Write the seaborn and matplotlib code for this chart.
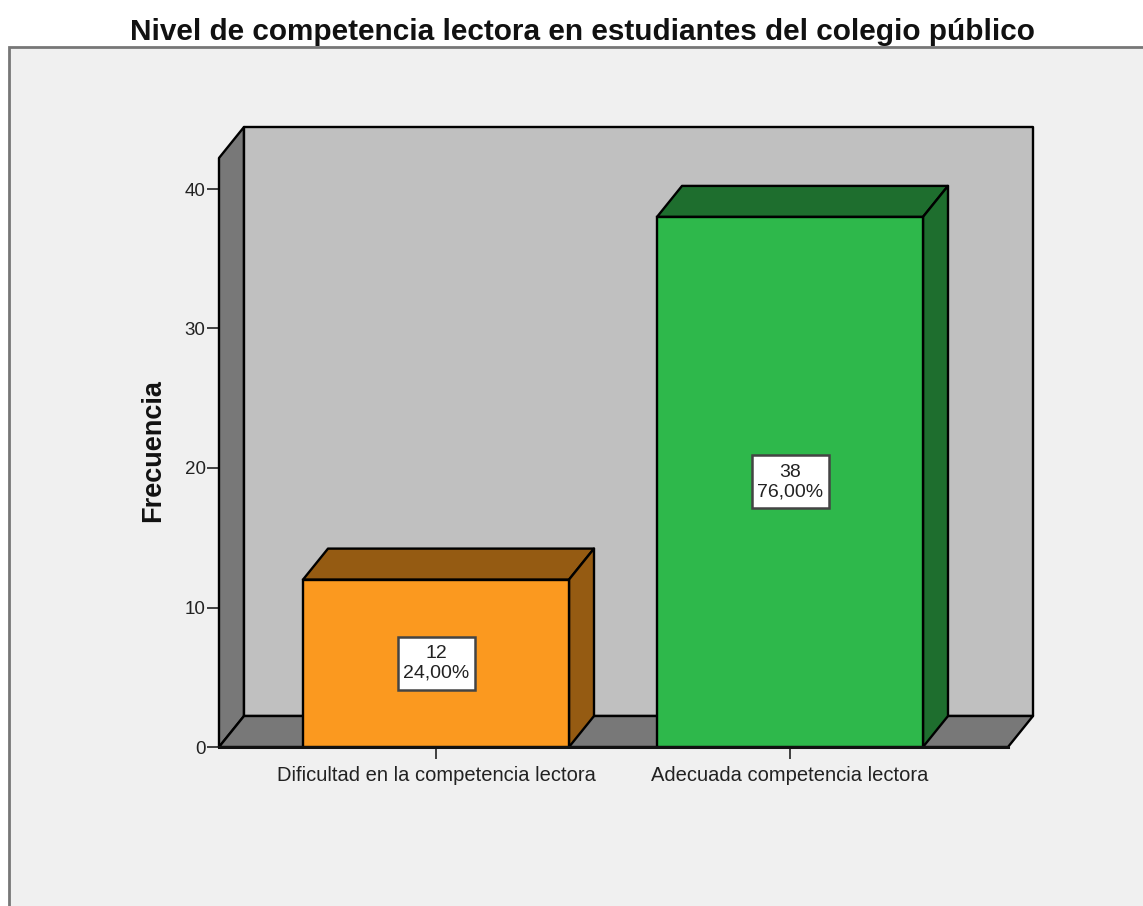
import matplotlib
matplotlib.use("Agg")
import matplotlib.pyplot as plt
import pandas as pd
import seaborn as sns
from matplotlib.patches import Rectangle

# Data
categorias = ["Dificultad en la competencia lectora", "Adecuada competencia lectora"]
frecuencias = [12, 38]
porcentajes = ["24,00%", "76,00%"]
colores = ["#FB991F", "#2EB84B"]
colores_lado = ["#955B12", "#1E6E2E"]
y_ticks = [0, 10, 20, 30, 40]

W, H = 1143, 906
PX_LEFT, PX_RIGHT, PX_TOP, PX_BOTTOM = 219, 1008, 158, 747
PX_PER_CAT = 354
PX_PER_UNIT = 13.95
DEPTH_X = 25 / PX_PER_CAT
DEPTH_Y = 31 / PX_PER_UNIT
BOX_W = 77 / PX_PER_CAT
BOX_H = 53 / PX_PER_UNIT
LINE = 1.7

sns.set_style("white")
plt.rcParams["font.family"] = ["Liberation Sans", "DejaVu Sans"]

df = pd.DataFrame({"nivel": categorias, "frecuencia": frecuencias})

fig = plt.figure(figsize=(W / 100, H / 100), dpi=100, facecolor="white")

# outer panel, runs off the right and bottom of the image
fig.add_artist(Rectangle((9 / W, -0.1), 1.1, 0.1 + (H - 47) / H, transform=fig.transFigure,
                         facecolor="#F0F0F0", edgecolor="#777777", linewidth=2, zorder=-1))

ax = fig.add_axes([PX_LEFT / W, 1 - PX_BOTTOM / H, (PX_RIGHT - PX_LEFT) / W, (PX_BOTTOM - PX_TOP) / H])
ax.patch.set_alpha(0)

sns.barplot(data=df, x="nivel", y="frecuencia", hue="nivel", hue_order=categorias,
            palette=colores, width=266 / PX_PER_CAT, saturation=1, legend=False,
            edgecolor="black", linewidth=LINE, zorder=4, ax=ax)

x0 = -(436 - PX_LEFT) / PX_PER_CAT
x1 = x0 + (PX_RIGHT - PX_LEFT) / PX_PER_CAT
y1 = (PX_BOTTOM - PX_TOP) / PX_PER_UNIT
ax.set_xlim(x0, x1)
ax.set_ylim(0, y1)


def cara(xs, ys, color, z):
    ax.fill(xs, ys, facecolor=color, edgecolor="black", linewidth=LINE, clip_on=False,
            joinstyle="round", zorder=z)


# walls and floor of the 3D box
cara([x0, x0, x0 + DEPTH_X, x0 + DEPTH_X], [0, y1, y1 + DEPTH_Y, DEPTH_Y], "#787878", 1)
cara([x0 + DEPTH_X, x0 + DEPTH_X, x1 + DEPTH_X, x1 + DEPTH_X],
     [DEPTH_Y, y1 + DEPTH_Y, y1 + DEPTH_Y, DEPTH_Y], "#C0C0C0", 1)
cara([x0, x0 + DEPTH_X, x1 + DEPTH_X, x1], [0, DEPTH_Y, DEPTH_Y, 0], "#787878", 1)

# top and side of every bar, plus its label box
for barra, lado, n, pct in zip(ax.patches, colores_lado, frecuencias, porcentajes):
    a = barra.get_x()
    b = a + barra.get_width()
    h = barra.get_height()
    cx = (a + b) / 2
    cara([a, a + DEPTH_X, b + DEPTH_X, b], [h, h + DEPTH_Y, h + DEPTH_Y, h], lado, 3)
    cara([b, b + DEPTH_X, b + DEPTH_X, b], [0, DEPTH_Y, h + DEPTH_Y, h], lado, 3)
    ax.add_patch(Rectangle((cx - BOX_W / 2, h / 2 - BOX_H / 2), BOX_W, BOX_H, facecolor="white",
                           edgecolor="#444444", linewidth=1.8, zorder=5))
    ax.text(cx, h / 2, f"{n}\n{pct}", ha="center", va="center", ma="center",
            fontsize=14, color="#222222", linespacing=1.2, zorder=6)

ax.set_yticks(y_ticks)
ax.set_xticks(range(len(categorias)), categorias)
ax.tick_params(axis="both", length=8.6, width=1.2, color="#222222", labelcolor="#222222", bottom=True, left=True)
ax.tick_params(axis="y", labelsize=13.5, pad=1)
ax.tick_params(axis="x", labelsize=14.5, pad=5)

sns.despine(ax=ax, left=True, top=True, right=True, bottom=False)
ax.spines["bottom"].set_linewidth(2.2)
ax.spines["bottom"].set_color("#111111")
ax.spines["bottom"].set_zorder(5)

ax.set_xlabel("")
ax.set_ylabel("")
fig.text(153 / W, 1 - 451 / H, "Frecuencia", rotation=90, ha="center", va="center",
         fontsize=19.5, fontweight="bold", color="#111111")
fig.text(582 / W, 1 - 32 / H, "Nivel de competencia lectora en estudiantes del colegio público",
         ha="center", va="center", fontsize=21.4, fontweight="bold", color="#111111")

fig.savefig("out.png", dpi=100)
